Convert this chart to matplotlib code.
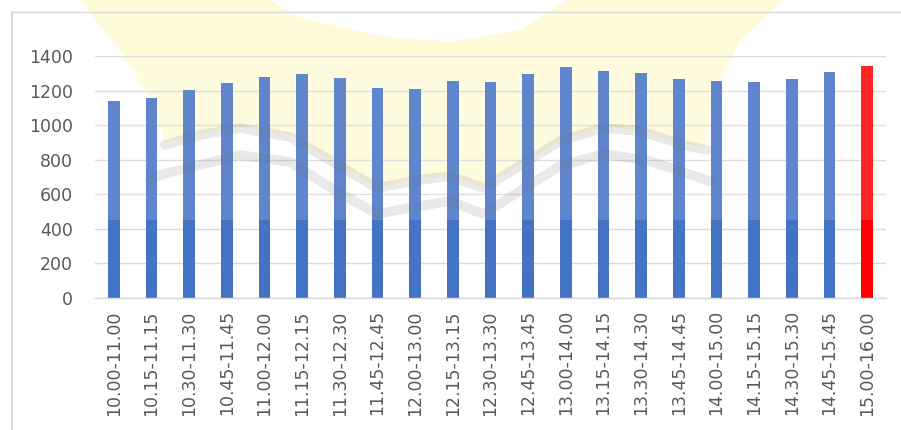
import numpy as np
import matplotlib
matplotlib.use("Agg")
import matplotlib.pyplot as plt
from matplotlib.patches import Polygon
from matplotlib.lines import Line2D

# time slots and counts
slots = ["10.00-11.00", "10.15-11.15", "10.30-11.30", "10.45-11.45", "11.00-12.00",
         "11.15-12.15", "11.30-12.30", "11.45-12.45", "12.00-13.00", "12.15-13.15",
         "12.30-13.30", "12.45-13.45", "13.00-14.00", "13.15-14.15", "13.30-14.30",
         "13.45-14.45", "14.00-15.00", "14.15-15.15", "14.30-15.30", "14.45-15.45",
         "15.00-16.00"]
counts = [1140, 1160, 1207, 1245, 1278, 1297, 1274, 1218, 1212, 1254,
          1253, 1299, 1340, 1317, 1303, 1267, 1255, 1249, 1269, 1309, 1344]
peak = len(counts) - 1
yticks = [0, 200, 400, 600, 800, 1000, 1200, 1400]

W, H = 901, 430
fig = plt.figure(figsize=(W / 100, H / 100), dpi=100)

def px(pts):
    # pixel coords (y down) -> figure fraction
    return [(x / W, 1 - y / H) for x, y in pts]

# --- faint watermark behind the chart ---
yellow = [(80, 0), (270, 0), (300, 18), (380, 36), (450, 42), (520, 30), (567, 0),
          (783, 0), (740, 40), (712, 100), (705, 147), (683, 143), (640, 130),
          (603, 127), (560, 140), (520, 165), (483, 187), (450, 175), (410, 180),
          (377, 187), (333, 160), (290, 135), (240, 127), (200, 133), (165, 143),
          (150, 100), (120, 50)]
fig.patches.append(Polygon(px(yellow), closed=True, transform=fig.transFigure,
                           facecolor="#FFFBD9", edgecolor="none", zorder=-2))

bands = [
    [(165, 145), (200, 135), (240, 128), (290, 137), (333, 162), (377, 188),
     (420, 180), (450, 176), (483, 188), (520, 166), (560, 141), (603, 128),
     (640, 131), (683, 145), (708, 150)],
    [(150, 180), (160, 175), (240, 155), (290, 162), (333, 189), (377, 214),
     (420, 206), (450, 201), (483, 214), (520, 191), (560, 166), (603, 154),
     (650, 161), (712, 182)],
]
for b in bands:
    xy = np.array(px(b))
    fig.lines.append(Line2D(xy[:, 0], xy[:, 1], transform=fig.transFigure,
                            color="#707070", alpha=0.15, lw=7,
                            solid_capstyle="round", zorder=5))

# chart frame (top and left edges visible)
fig.lines.append(Line2D([12 / W, 1], [1 - 12 / H, 1 - 12 / H], transform=fig.transFigure,
                        color="#D9D9D9", lw=1, zorder=-1))
fig.lines.append(Line2D([12 / W, 12 / W], [0, 1 - 12 / H], transform=fig.transFigure,
                        color="#D9D9D9", lw=1.5, zorder=-1))

# --- chart ---
ax = fig.add_axes([95 / W, 1 - 297.7 / H, (886 - 95) / W, (297.7 - 56.3) / H])
ax.set_facecolor("none")

x = np.arange(len(slots))
colors = ["#4472C4"] * len(counts)
colors[peak] = "#FF0000"
ax.bar(x, counts, width=0.305, color=colors, zorder=2)
ax.axhspan(450, 1400, color="white", alpha=0.15, lw=0, zorder=3)

ax.set_xlim(-0.5, len(slots) - 0.5)
ax.set_ylim(0, 1400)
ax.set_yticks(yticks)
ax.set_xticks(x)
ax.set_xticklabels(slots, rotation=90)
ax.grid(axis="y", color="#D9D9D9", lw=1, zorder=0)
ax.set_axisbelow(True)

for s in ["top", "right", "left"]:
    ax.spines[s].set_visible(False)
ax.spines["bottom"].set_color("#D9D9D9")
ax.spines["bottom"].set_linewidth(1)

ax.tick_params(axis="both", length=0, labelsize=12.5, labelcolor="#595959")
ax.tick_params(axis="y", pad=16)
ax.tick_params(axis="x", pad=9)

fig.savefig("out.png", dpi=100)
